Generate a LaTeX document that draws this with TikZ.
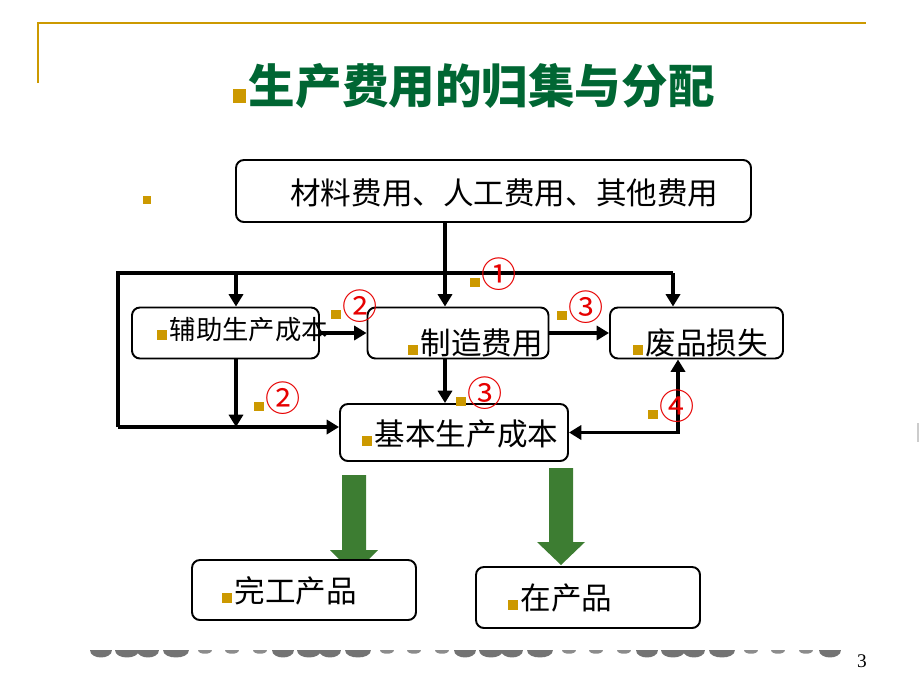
\documentclass[tikz,border=0pt]{standalone}
\usepackage{fontspec}
\setmainfont{Liberation Serif}
\newfontfamily\cjk{Noto Sans CJK SC}
\usetikzlibrary{arrows.meta}
\definecolor{gold}{RGB}{204,153,0}
\definecolor{titlegreen}{RGB}{0,102,51}
\definecolor{arrowgreen}{RGB}{61,125,50}
\definecolor{numred}{RGB}{230,0,0}
\newcommand{\bul}{\textcolor{gold}{\rule{5.6pt}{5.6pt}}\hspace{1.5pt}}
\newcommand{\circnum}[1]{\textcolor{gold}{\rule{5.6pt}{5.6pt}}\hspace{1pt}\textcolor{numred}{\fontsize{20pt}{20pt}\selectfont #1}}
\newcommand{\pix}{0.02cm}

\begin{document}
\begin{tikzpicture}[x=0.02cm,y=-0.02cm,
    box/.style={draw=black,line width=1.1pt,rounded corners=4.5pt,fill=white,inner sep=0pt},
    txt/.style={anchor=west,inner sep=0pt,font=\cjk\fontsize{17.4pt}{17.4pt}\selectfont},
    num/.style={anchor=west,inner sep=0pt,font=\cjk},
    arr/.style={line width=2.1pt,-{Triangle[length=7pt,width=8pt]}}]
    \useasboundingbox (0,0) rectangle (920,690);

    % frame and title
    \draw[gold,line width=1.2pt] (38,83) -- (38,23) -- (866,23);
    \node[anchor=west,inner sep=0pt,text=titlegreen,font=\cjk\bfseries\fontsize{26.5pt}{26.5pt}\selectfont] (title) at (233,86)
        {\textcolor{gold}{\rule{7.4pt}{8.5pt}}\hspace{1.5pt}生产费用的归集与分配};
    \node[inner sep=0pt] (dot) at (147,200) {\textcolor{gold}{\rule{4.5pt}{4.5pt}}};

    % green arrows (under the product boxes)
    \fill[arrowgreen] (342,475) -- (366,475) -- (366,550) -- (378,550) -- (354,574) -- (330,550) -- (342,550) -- cycle;
    \fill[arrowgreen] (549,468) -- (573,468) -- (573,542) -- (585,542) -- (561,565) -- (537,542) -- (549,542) -- cycle;

    % boxes
    \node[box,minimum width=515*\pix,minimum height=62*\pix] (cost) at (493.5,191) {};
    \node[box,minimum width=187*\pix,minimum height=51*\pix] (fuzhu) at (225.5,333) {};
    \node[box,minimum width=181*\pix,minimum height=51*\pix] (zhizao) at (458,333) {};
    \node[box,minimum width=173*\pix,minimum height=51*\pix] (feipin) at (696.5,333) {};
    \node[box,minimum width=228*\pix,minimum height=57*\pix] (jiben) at (454,432.5) {};
    \node[box,minimum width=224*\pix,minimum height=60*\pix] (wangong) at (304,590) {};
    \node[box,minimum width=224*\pix,minimum height=61*\pix] (zaichan) at (588,597.5) {};

    % connectors
    \coordinate (tl) at (118,273);
    \coordinate (tr) at (673,273);
    \coordinate (bl) at (118,427);
    \coordinate (xa) at (236,0);
    \coordinate (xm) at (445,0);
    \coordinate (xr) at (678,0);

    \draw[line width=2.1pt] (bl) -- (tl) -- (tr);
    \draw[arr] (tr) -- (feipin.north -| tr);
    \draw[arr] (tl -| xa) -- (fuzhu.north -| xa);
    \draw[arr] (cost.south -| xm) -- (zhizao.north -| xm);
    \draw[arr] (bl) -- (jiben.west |- bl);
    \draw[arr] (fuzhu.south -| xa) -- (bl -| xa);
    \draw[arr] (fuzhu.east) -- (zhizao.west);
    \draw[arr] (zhizao.east) -- (feipin.west);
    \draw[arr] (zhizao.south -| xm) -- (jiben.north -| xm);
    \draw[arr,{Triangle[length=7pt,width=8pt]}-{Triangle[length=7pt,width=8pt]}] (jiben.east) -| (feipin.south -| xr);

    % box texts
    \node[txt] (tcost) at (290,193) {材料费用、人工费用、其他费用};
    \node[txt,font=\cjk\fontsize{15pt}{15pt}\selectfont] (tfuzhu) at (157,330) {\bul 辅助生产成本};
    \node[txt] (tzhizao) at (408,343) {\bul 制造费用};
    \node[txt] (tfeipin) at (633,343) {\bul 废品损失};
    \node[txt] (tjiben) at (362,434) {\bul 基本生产成本};
    \node[txt] (twangong) at (222,591) {\bul 完工产品};
    \node[txt] (tzaichan) at (508,598) {\bul 在产品};

    % step numbers
    \node[num] (n1) at (470,274) {\circnum{①}};
    \node[num] (n2a) at (331,306) {\circnum{②}};
    \node[num] (n2b) at (254,398) {\circnum{②}};
    \node[num] (n3a) at (557,307) {\circnum{③}};
    \node[num] (n3b) at (456,393) {\circnum{③}};
    \node[num] (n4) at (648,406) {\circnum{④}};

    % footer
    \foreach \g in {91,273,455,637} {
        \foreach \c/\r in {10/11,36/12,57/11,85/13}
            \fill[black!55] (\g+\c-\r,650) .. controls (\g+\c-\r,660) and (\g+\c+\r,660) .. (\g+\c+\r,650) -- cycle;
        \foreach \c in {114,141,169}
            \fill[black!45] (\g+\c-7,650) .. controls (\g+\c-7,655) and (\g+\c+7,655) .. (\g+\c+7,650) -- cycle;
    }
    \fill[black!55] (819,650) .. controls (819,660) and (841,660) .. (841,650) -- cycle;
    \draw[black!20,line width=1pt] (918,423) -- (918,442);
    \node[font=\fontsize{11pt}{11pt}\selectfont] (page) at (862,661) {3};
\end{tikzpicture}
\end{document}
